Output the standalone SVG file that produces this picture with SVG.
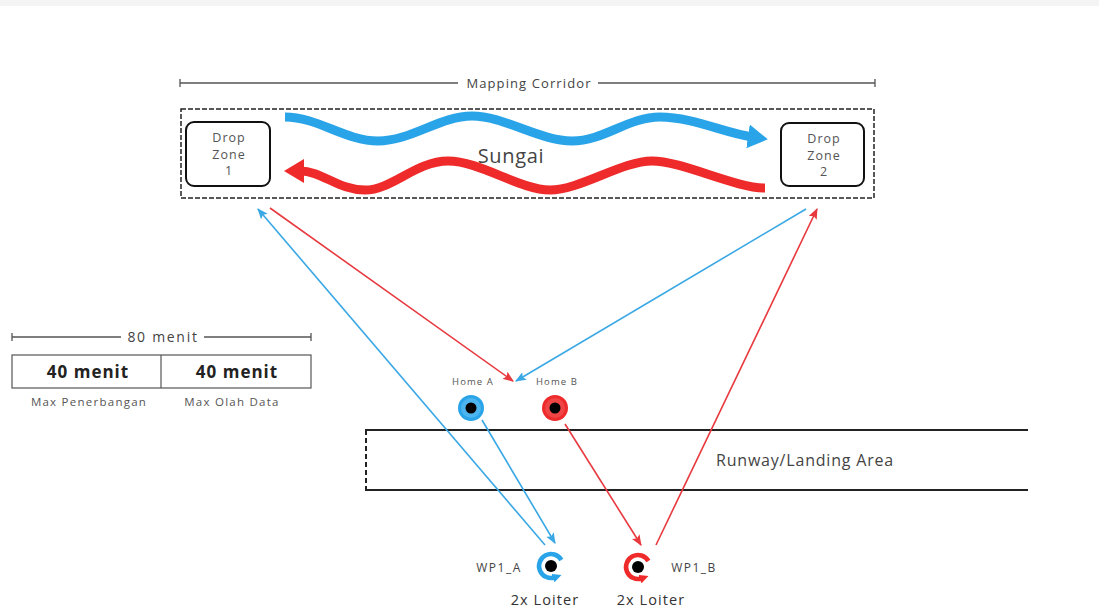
<svg xmlns="http://www.w3.org/2000/svg" width="1099" height="613" viewBox="0 0 1099 613">
<style>
text{font-family:"Open Sans","Liberation Sans",sans-serif;fill:#444}
.dz{fill:#fff;stroke:#111;stroke-width:2}
.dzt{font-size:12.5px;letter-spacing:1px;fill:#555;text-anchor:middle}
.dim{stroke:#555;stroke-width:1.3;fill:none}
.tb{stroke:#222;stroke-width:1.8}
.cb{stroke:#3aa8e4;stroke-width:1.6;fill:none}
.cr{stroke:#e8393f;stroke-width:1.6;fill:none}
.wb{stroke:#2aa4e8;stroke-width:9;fill:none}
.wr{stroke:#ef2a2a;stroke-width:9;fill:none}
.small{font-size:9.5px;letter-spacing:1.1px;text-anchor:middle;fill:#555}
.wp{font-size:12px;letter-spacing:1.5px;text-anchor:middle}
.loit{font-size:14.5px;letter-spacing:1.1px;text-anchor:middle;fill:#333}
.cap{font-size:11.5px;letter-spacing:1.25px;text-anchor:middle;fill:#555}
.big{font-size:17px;letter-spacing:1px;font-weight:bold;text-anchor:middle;fill:#222}
</style>
<defs>
<marker id="hb" viewBox="0 0 20 24" refX="4" refY="12" markerWidth="20" markerHeight="24" markerUnits="userSpaceOnUse" orient="auto"><path d="M0,0 L20,12 L0,24 z" fill="#2aa4e8"/></marker>
<marker id="hr" viewBox="0 0 20 24" refX="4" refY="12" markerWidth="20" markerHeight="24" markerUnits="userSpaceOnUse" orient="auto"><path d="M0,0 L20,12 L0,24 z" fill="#ef2a2a"/></marker>
<marker id="ab" viewBox="0 0 10 8" refX="9" refY="4" markerWidth="11" markerHeight="9" markerUnits="userSpaceOnUse" orient="auto"><path d="M0,0 L10,4 L0,8 L2,4 z" fill="#3aa8e4"/></marker>
<marker id="ar" viewBox="0 0 10 8" refX="9" refY="4" markerWidth="11" markerHeight="9" markerUnits="userSpaceOnUse" orient="auto"><path d="M0,0 L10,4 L0,8 L2,4 z" fill="#e8393f"/></marker>
<marker id="lb" viewBox="0 0 8 8" refX="2" refY="4" markerWidth="9" markerHeight="9" markerUnits="userSpaceOnUse" orient="auto"><path d="M0,0 L8,4 L0,8 z" fill="#2aa4e8"/></marker>
<marker id="lr" viewBox="0 0 8 8" refX="2" refY="4" markerWidth="9" markerHeight="9" markerUnits="userSpaceOnUse" orient="auto"><path d="M0,0 L8,4 L0,8 z" fill="#ef2a2a"/></marker>
</defs>
<rect x="0" y="0" width="1099" height="613" fill="#fff"/>
<rect x="0" y="0" width="1099" height="6" fill="#f4f4f4"/>

<g id="corridor">
<path class="dim" d="M180,83 H458 M598,83 H875 M180,79 V87 M875,79 V87"/>
<text x="529" y="88" font-size="13" letter-spacing="1.1" text-anchor="middle">Mapping Corridor</text>
<rect x="181" y="109" width="693" height="89" fill="none" stroke="#222" stroke-width="1.5" stroke-dasharray="5,2"/>
<text x="511" y="163" font-size="20" letter-spacing="0.7" text-anchor="middle" fill="#333">Sungai</text>
<path class="wb" d="M285,117 C318,117 345,141 378,141 S440,116 472,116 S540,141 572,141 S628,117 660,117 S725,133 752,137" marker-end="url(#hb)"/>
<path class="wr" d="M765,188 C735,188 682,161 652,161 S580,190 550,190 S480,161 448,161 S392,190 365,190 S322,171 300,171" marker-end="url(#hr)"/>
</g>

<g id="dz1">
<rect class="dz" x="186" y="122" width="84" height="64" rx="8"/>
<text class="dzt" x="229" y="142">Drop</text>
<text class="dzt" x="229" y="159">Zone</text>
<text class="dzt" x="229" y="175">1</text>
</g>
<g id="dz2">
<rect class="dz" x="781" y="123" width="83" height="63" rx="8"/>
<text class="dzt" x="824" y="143">Drop</text>
<text class="dzt" x="824" y="160">Zone</text>
<text class="dzt" x="824" y="176">2</text>
</g>

<g id="time-box">
<path class="dim" d="M12,337 H121 M204,337 H311 M12,333 V341 M311,333 V341"/>
<text x="163" y="342" font-size="14" letter-spacing="1.7" text-anchor="middle">80 menit</text>
<rect x="12" y="355" width="299" height="33" fill="#fff" stroke="#555" stroke-width="1.2"/>
<line x1="161" y1="355" x2="161" y2="388" stroke="#555" stroke-width="1.2"/>
<text class="big" x="88" y="378">40 menit</text>
<text class="big" x="237" y="378">40 menit</text>
<text class="cap" x="89" y="406">Max Penerbangan</text>
<text class="cap" x="232" y="406">Max Olah Data</text>
</g>

<g id="runway">
<line class="tb" x1="365" y1="430" x2="1028" y2="430"/>
<line class="tb" x1="365" y1="490" x2="1028" y2="490"/>
<line x1="366" y1="430" x2="366" y2="490" stroke="#222" stroke-width="2" stroke-dasharray="5,3"/>
<text x="805" y="466" font-size="16" letter-spacing="0.8" text-anchor="middle">Runway/Landing Area</text>
</g>

<g id="connectors">
<line class="cr" x1="270" y1="208" x2="513" y2="381" marker-end="url(#ar)"/>
<line class="cb" x1="806" y1="209" x2="516" y2="381" marker-end="url(#ab)"/>
<line class="cb" x1="545" y1="545" x2="258" y2="209" marker-end="url(#ab)"/>
<line class="cb" x1="482" y1="420" x2="555" y2="543" marker-end="url(#ab)"/>
<line class="cr" x1="565" y1="424" x2="641" y2="545" marker-end="url(#ar)"/>
<line class="cr" x1="656" y1="545" x2="817" y2="209" marker-end="url(#ar)"/>
</g>

<g id="home-a">
<text class="small" x="473" y="385">Home A</text>
<circle cx="471" cy="408" r="13" fill="#2aa4e8"/>
<circle cx="471" cy="408" r="10" fill="#4cb4ee"/>
<circle cx="471" cy="408" r="5.5" fill="#000"/>
</g>
<g id="home-b">
<text class="small" x="557" y="385">Home B</text>
<circle cx="555" cy="408" r="13" fill="#ee2b2b"/>
<circle cx="555" cy="408" r="10" fill="#f04545"/>
<circle cx="555" cy="408" r="5.5" fill="#000"/>
</g>

<g id="wp1-a">
<path d="M561.4,560 A12,12 0 1 0 555.1,577.3" fill="none" stroke="#2aa4e8" stroke-width="4.5" marker-end="url(#lb)"/>
<circle cx="551" cy="566" r="6" fill="#000"/>
<text class="wp" x="499" y="572">WP1_A</text>
<text class="loit" x="545" y="605">2x Loiter</text>
</g>
<g id="wp1-b">
<path d="M648.4,561 A12,12 0 1 0 642.1,578.3" fill="none" stroke="#ef2a2a" stroke-width="4.5" marker-end="url(#lr)"/>
<circle cx="638" cy="567" r="6" fill="#000"/>
<text class="wp" x="694" y="572">WP1_B</text>
<text class="loit" x="651" y="605">2x Loiter</text>
</g>
</svg>
